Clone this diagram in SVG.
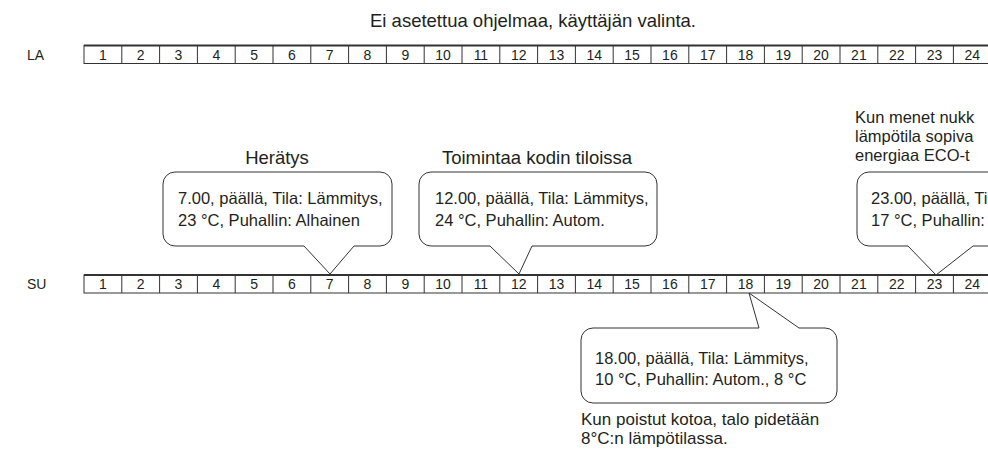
<svg xmlns="http://www.w3.org/2000/svg" width="988" height="449" viewBox="0 0 988 449">
<style>
text{font-family:"Liberation Sans",Arial,sans-serif;font-size:14px;fill:#231f20}
.num{text-anchor:middle;font-size:14.5px}
.head{font-size:18.5px}
.head3{font-size:16.5px}
.body{font-size:16.5px}
.foot{font-size:17px}
.bar{fill:#fff;stroke:#333;stroke-width:1}
.top{stroke:#333;stroke-width:1.8}
.cell{stroke:#333;stroke-width:1}
.callout{fill:#fff;stroke:#333;stroke-width:1}
</style>
<rect width="988" height="449" fill="#fff"/>
<text class="head" x="533" y="26.5" text-anchor="middle">Ei asetettua ohjelmaa, käyttäjän valinta.</text>
<g id="row-la">
<text x="27" y="60">LA</text>
<rect class="bar" x="84" y="45.5" width="910" height="18"/>
<line class="top" x1="84" y1="45.5" x2="988" y2="45.5"/>
<g class="cell">
<line x1="121.8" y1="45.5" x2="121.8" y2="63.5"/><line x1="159.6" y1="45.5" x2="159.6" y2="63.5"/><line x1="197.4" y1="45.5" x2="197.4" y2="63.5"/><line x1="235.2" y1="45.5" x2="235.2" y2="63.5"/><line x1="273" y1="45.5" x2="273" y2="63.5"/><line x1="310.8" y1="45.5" x2="310.8" y2="63.5"/><line x1="348.6" y1="45.5" x2="348.6" y2="63.5"/><line x1="386.4" y1="45.5" x2="386.4" y2="63.5"/><line x1="424.2" y1="45.5" x2="424.2" y2="63.5"/><line x1="462" y1="45.5" x2="462" y2="63.5"/><line x1="499.8" y1="45.5" x2="499.8" y2="63.5"/><line x1="537.6" y1="45.5" x2="537.6" y2="63.5"/><line x1="575.4" y1="45.5" x2="575.4" y2="63.5"/><line x1="613.2" y1="45.5" x2="613.2" y2="63.5"/><line x1="651" y1="45.5" x2="651" y2="63.5"/><line x1="688.8" y1="45.5" x2="688.8" y2="63.5"/><line x1="726.6" y1="45.5" x2="726.6" y2="63.5"/><line x1="764.4" y1="45.5" x2="764.4" y2="63.5"/><line x1="802.2" y1="45.5" x2="802.2" y2="63.5"/><line x1="840" y1="45.5" x2="840" y2="63.5"/><line x1="877.8" y1="45.5" x2="877.8" y2="63.5"/><line x1="915.6" y1="45.5" x2="915.6" y2="63.5"/><line x1="953.4" y1="45.5" x2="953.4" y2="63.5"/>
</g>
<g class="num">
<text x="102.9" y="59.5">1</text><text x="140.7" y="59.5">2</text><text x="178.5" y="59.5">3</text><text x="216.3" y="59.5">4</text><text x="254.1" y="59.5">5</text><text x="291.9" y="59.5">6</text><text x="329.7" y="59.5">7</text><text x="367.5" y="59.5">8</text><text x="405.3" y="59.5">9</text><text x="443.1" y="59.5">10</text><text x="480.9" y="59.5">11</text><text x="518.7" y="59.5">12</text><text x="556.5" y="59.5">13</text><text x="594.3" y="59.5">14</text><text x="632.1" y="59.5">15</text><text x="669.9" y="59.5">16</text><text x="707.7" y="59.5">17</text><text x="745.5" y="59.5">18</text><text x="783.3" y="59.5">19</text><text x="821.1" y="59.5">20</text><text x="858.9" y="59.5">21</text><text x="896.7" y="59.5">22</text><text x="934.5" y="59.5">23</text><text x="972.3" y="59.5">24</text>
</g>
</g>
<g id="row-su">
<text x="27" y="289">SU</text>
<rect class="bar" x="84" y="275" width="910" height="18"/>
<line class="top" x1="84" y1="275" x2="988" y2="275"/>
<g class="cell">
<line x1="121.8" y1="275" x2="121.8" y2="293"/><line x1="159.6" y1="275" x2="159.6" y2="293"/><line x1="197.4" y1="275" x2="197.4" y2="293"/><line x1="235.2" y1="275" x2="235.2" y2="293"/><line x1="273" y1="275" x2="273" y2="293"/><line x1="310.8" y1="275" x2="310.8" y2="293"/><line x1="348.6" y1="275" x2="348.6" y2="293"/><line x1="386.4" y1="275" x2="386.4" y2="293"/><line x1="424.2" y1="275" x2="424.2" y2="293"/><line x1="462" y1="275" x2="462" y2="293"/><line x1="499.8" y1="275" x2="499.8" y2="293"/><line x1="537.6" y1="275" x2="537.6" y2="293"/><line x1="575.4" y1="275" x2="575.4" y2="293"/><line x1="613.2" y1="275" x2="613.2" y2="293"/><line x1="651" y1="275" x2="651" y2="293"/><line x1="688.8" y1="275" x2="688.8" y2="293"/><line x1="726.6" y1="275" x2="726.6" y2="293"/><line x1="764.4" y1="275" x2="764.4" y2="293"/><line x1="802.2" y1="275" x2="802.2" y2="293"/><line x1="840" y1="275" x2="840" y2="293"/><line x1="877.8" y1="275" x2="877.8" y2="293"/><line x1="915.6" y1="275" x2="915.6" y2="293"/><line x1="953.4" y1="275" x2="953.4" y2="293"/>
</g>
<g class="num">
<text x="102.9" y="289">1</text><text x="140.7" y="289">2</text><text x="178.5" y="289">3</text><text x="216.3" y="289">4</text><text x="254.1" y="289">5</text><text x="291.9" y="289">6</text><text x="329.7" y="289">7</text><text x="367.5" y="289">8</text><text x="405.3" y="289">9</text><text x="443.1" y="289">10</text><text x="480.9" y="289">11</text><text x="518.7" y="289">12</text><text x="556.5" y="289">13</text><text x="594.3" y="289">14</text><text x="632.1" y="289">15</text><text x="669.9" y="289">16</text><text x="707.7" y="289">17</text><text x="745.5" y="289">18</text><text x="783.3" y="289">19</text><text x="821.1" y="289">20</text><text x="858.9" y="289">21</text><text x="896.7" y="289">22</text><text x="934.5" y="289">23</text><text x="972.3" y="289">24</text>
</g>
</g>
<g id="callout-7">
<text class="head" x="277" y="163.5" text-anchor="middle">Herätys</text>
<path class="callout" d="M175,172 H380 A12,12 0 0 1 392,184 V234 A12,12 0 0 1 380,246 H354 L330,274 L304,246 H175 A12,12 0 0 1 163,234 V184 A12,12 0 0 1 175,172 Z"/>
<text class="body" x="178" y="204">7.00, päällä, Tila: Lämmitys,</text>
<text class="body" x="178" y="226">23 °C, Puhallin: Alhainen</text>
</g>
<g id="callout-12">
<text class="head" x="537" y="163.5" text-anchor="middle">Toimintaa kodin tiloissa</text>
<path class="callout" d="M431,172 H645 A12,12 0 0 1 657,184 V234 A12,12 0 0 1 645,246 H532 L519,274 L490,246 H431 A12,12 0 0 1 419,234 V184 A12,12 0 0 1 431,172 Z"/>
<text class="body" x="435" y="204">12.00, päällä, Tila: Lämmitys,</text>
<text class="body" x="435" y="226">24 °C, Puhallin: Autom.</text>
</g>
<g id="callout-23">
<text class="head3"><tspan x="855" y="123">Kun menet nukk</tspan><tspan x="855" y="142">lämpötila sopiva</tspan><tspan x="855" y="161">energiaa ECO-t</tspan></text>
<path class="callout" d="M869,172 H1010 V246 H973 L936,275 L908,246 H869 A12,12 0 0 1 857,234 V184 A12,12 0 0 1 869,172 Z"/>
<text class="body" x="871" y="204">23.00, päällä, Ti</text>
<text class="body" x="871" y="226">17 °C, Puhallin:</text>
</g>
<g id="callout-18">
<path class="callout" d="M593,328 H759 L749,293 L799,328 H825 A12,12 0 0 1 837,340 V391 A12,12 0 0 1 825,403 H593 A12,12 0 0 1 581,391 V340 A12,12 0 0 1 593,328 Z"/>
<text class="body" x="595" y="364">18.00, päällä, Tila: Lämmitys,</text>
<text class="body" x="595" y="385">10 °C, Puhallin: Autom., 8 °C</text>
<text class="foot" x="581" y="425">Kun poistut kotoa, talo pidetään</text>
<text class="foot" x="581" y="444">8°C:n lämpötilassa.</text>
</g>
</svg>
